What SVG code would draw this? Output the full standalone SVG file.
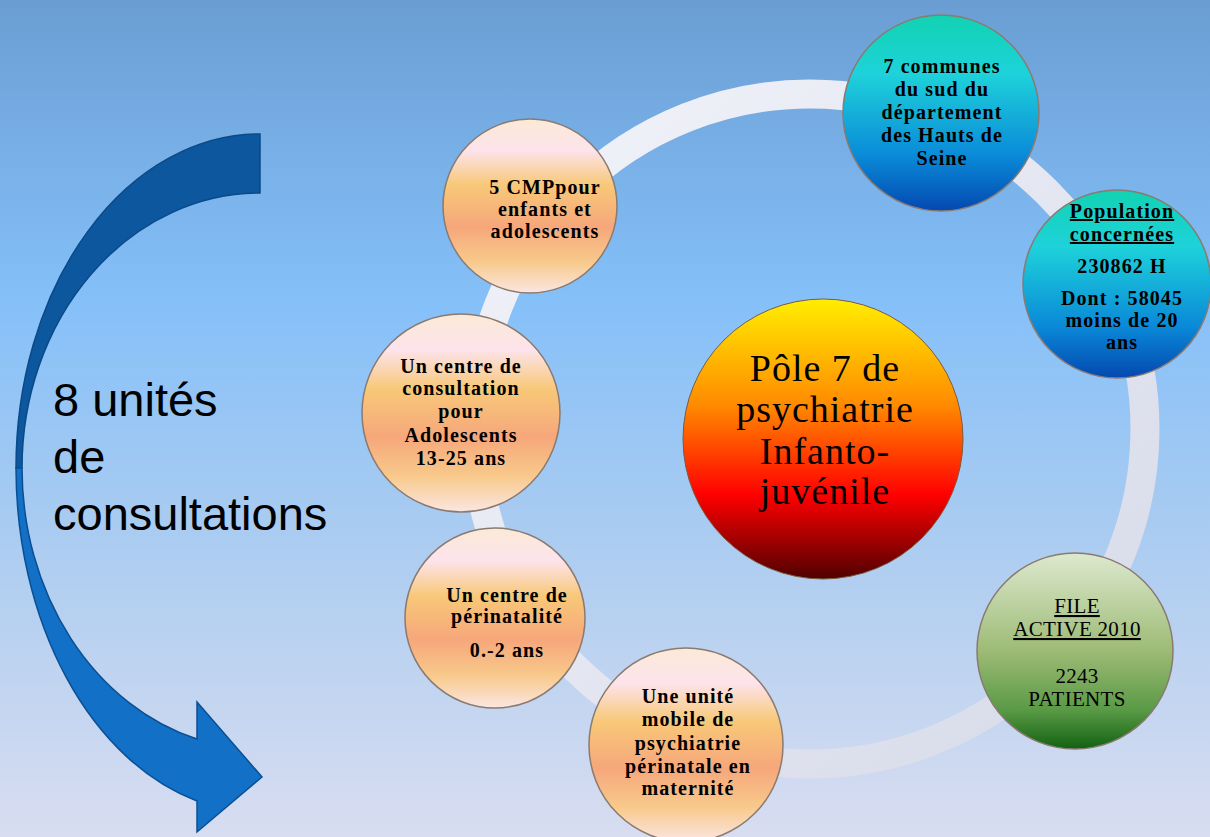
<svg xmlns="http://www.w3.org/2000/svg" width="1210" height="837" viewBox="0 0 1210 837">
<defs>
<linearGradient id="bg" x1="0" y1="0" x2="0" y2="1">
<stop offset="0" stop-color="#6a9ed3"/>
<stop offset="0.36" stop-color="#85c0f9"/>
<stop offset="0.62" stop-color="#a8cbf1"/>
<stop offset="1" stop-color="#d8ddf0"/>
</linearGradient>
<linearGradient id="peach" x1="0" y1="0" x2="0" y2="1">
<stop offset="0" stop-color="#fbead6"/>
<stop offset="0.18" stop-color="#fde3ec"/>
<stop offset="0.38" stop-color="#f8c878"/>
<stop offset="0.62" stop-color="#f6a77b"/>
<stop offset="0.82" stop-color="#f8c98b"/>
<stop offset="1" stop-color="#fbe6e2"/>
</linearGradient>
<linearGradient id="teal" x1="0" y1="0" x2="0" y2="1">
<stop offset="0" stop-color="#12d2b2"/>
<stop offset="0.3" stop-color="#1ed2da"/>
<stop offset="0.72" stop-color="#0a8ad8"/>
<stop offset="1" stop-color="#0448b0"/>
</linearGradient>
<linearGradient id="green" x1="0" y1="0" x2="0" y2="1">
<stop offset="0" stop-color="#dde9cf"/>
<stop offset="0.5" stop-color="#9dbb75"/>
<stop offset="0.8" stop-color="#5a9a46"/>
<stop offset="1" stop-color="#126212"/>
</linearGradient>
<linearGradient id="fire" x1="0" y1="0" x2="0" y2="1">
<stop offset="0" stop-color="#ffee00"/>
<stop offset="0.38" stop-color="#ff8a00"/>
<stop offset="0.7" stop-color="#ff0000"/>
<stop offset="1" stop-color="#500000"/>
</linearGradient>
<linearGradient id="ringg" x1="0" y1="0" x2="1" y2="1">
<stop offset="0" stop-color="#f2f3fa"/>
<stop offset="1" stop-color="#d6dae8"/>
</linearGradient>
<style>
.c{stroke:#8a7a70;stroke-width:1.5}
.t{font-family:"Liberation Serif","Times New Roman",serif;font-weight:bold;font-size:20px;letter-spacing:1.1px;text-anchor:middle;fill:#000}
.g{font-weight:normal;font-size:21px;letter-spacing:0.3px}
.big{font-family:"Liberation Serif","Times New Roman",serif;font-size:38px;letter-spacing:1px;text-anchor:middle;fill:#000}
.u{text-decoration:underline}
.lbl{font-family:"Liberation Sans",Arial,sans-serif;font-size:47px;fill:#000}
</style>
</defs>
<rect width="1210" height="837" fill="url(#bg)"/>

<g id="curved-arrow">
<path d="M260,134 A244,334 0 0 0 16,468 L22,468 A238,275 0 0 1 260,193 Z" fill="#0d579f" stroke="#0a4a88" stroke-width="1.5"/>
<path d="M16,468 A244,345 0 0 0 197,801 L197,832 L262,777 L197,702 L197,739 A238,281 0 0 1 22,468 Z" fill="#1270c6" stroke="#0b4f93" stroke-width="1.5"/>
</g>
<g id="label">
<text class="lbl" x="53" y="416">8 unités</text>
<text class="lbl" x="53" y="473">de</text>
<text class="lbl" x="53" y="530">consultations</text>
</g>

<g id="connectors">
<circle cx="810" cy="429" r="335" fill="none" stroke="url(#ringg)" stroke-width="29"/>
</g>

<g id="n-cmp">
<circle class="c" cx="530" cy="206" r="87" fill="url(#peach)"/>
<text class="t"><tspan x="545" y="194">5 CMPpour</tspan><tspan x="545" y="216">enfants et</tspan><tspan x="545" y="238">adolescents</tspan></text>
</g>
<g id="n-communes">
<circle class="c" cx="941" cy="113" r="98" fill="url(#teal)"/>
<text class="t"><tspan x="942" y="73">7 communes</tspan><tspan x="942" y="96">du sud du</tspan><tspan x="942" y="119">département</tspan><tspan x="942" y="142">des Hauts de</tspan><tspan x="942" y="165">Seine</tspan></text>
</g>
<g id="n-population">
<circle class="c" cx="1117" cy="284" r="94" fill="url(#teal)"/>
<text class="t"><tspan class="u" x="1122" y="218">Population</tspan><tspan class="u" x="1122" y="241">concernées</tspan><tspan x="1122" y="273">230862 H</tspan><tspan x="1122" y="305">Dont : 58045</tspan><tspan x="1122" y="327">moins de 20</tspan><tspan x="1122" y="349">ans</tspan></text>
</g>
<g id="n-ados">
<circle class="c" cx="461" cy="413" r="99" fill="url(#peach)"/>
<text class="t"><tspan x="461" y="373">Un centre de</tspan><tspan x="461" y="395">consultation</tspan><tspan x="461" y="418">pour</tspan><tspan x="461" y="442">Adolescents</tspan><tspan x="461" y="465">13-25 ans</tspan></text>
</g>
<g id="n-perinatalite">
<circle class="c" cx="495" cy="618" r="90" fill="url(#peach)"/>
<text class="t"><tspan x="507" y="602">Un centre de</tspan><tspan x="507" y="623">périnatalité</tspan><tspan x="507" y="657">0.-2 ans</tspan></text>
</g>
<g id="n-mobile">
<circle class="c" cx="686" cy="745" r="97" fill="url(#peach)"/>
<text class="t"><tspan x="688" y="703">Une unité</tspan><tspan x="688" y="726">mobile de</tspan><tspan x="688" y="750">psychiatrie</tspan><tspan x="688" y="773">périnatale en</tspan><tspan x="688" y="795">maternité</tspan></text>
</g>
<g id="n-file">
<circle class="c" cx="1075" cy="651" r="98" fill="url(#green)"/>
<text class="t g"><tspan class="u" x="1077" y="613">FILE</tspan><tspan class="u" x="1077" y="636">ACTIVE 2010</tspan><tspan x="1077" y="683">2243</tspan><tspan x="1077" y="706">PATIENTS</tspan></text>
</g>
<g id="n-pole">
<circle cx="823" cy="439" r="140" fill="url(#fire)" stroke="#7a5a40" stroke-width="1"/>
<text class="big"><tspan x="825" y="381">Pôle 7 de</tspan><tspan x="825" y="422">psychiatrie</tspan><tspan x="825" y="464">Infanto-</tspan><tspan x="825" y="504">juvénile</tspan></text>
</g>
</svg>
